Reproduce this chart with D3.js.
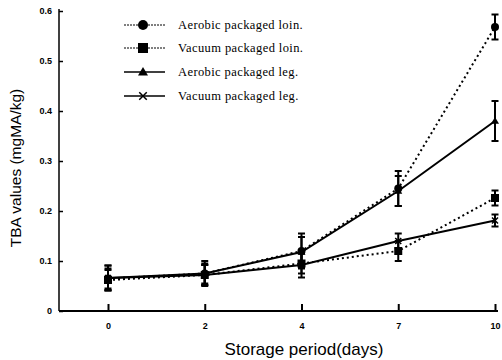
<!DOCTYPE html>
<html>
<head>
<meta charset="utf-8">
<script src="https://cdn.jsdelivr.net/npm/d3@7"></script>
<style>
  body { margin: 0; background: #fff; }
</style>
</head>
<body>
<svg width="502" height="360"></svg>
<script>
// data
const days = ["0", "2", "4", "7", "10"]
const yTicks = [0, 0.1, 0.2, 0.3, 0.4, 0.5, 0.6]

const aerobicLoin = [0.065, 0.075, 0.12, 0.245, 0.568]
const aerobicLoinErr = [0.02, 0.02, 0.035, 0.035, 0.025]
const vacuumLoin = [0.062, 0.072, 0.095, 0.12, 0.226]
const vacuumLoinErr = [0.02, 0.02, 0.02, 0.02, 0.015]
const aerobicLeg = [0.066, 0.075, 0.118, 0.24, 0.38]
const aerobicLegErr = [0.025, 0.025, 0.03, 0.03, 0.04]
const vacuumLeg = [0.066, 0.072, 0.092, 0.14, 0.181]
const vacuumLegErr = [0.025, 0.02, 0.025, 0.015, 0.012]

const names = ["Aerobic packaged loin.", "Vacuum packaged loin.", "Aerobic packaged leg.", "Vacuum packaged leg."]

const series = [
  {name: names[0], values: aerobicLoin, err: aerobicLoinErr, mark: "circle", dash: "2,3"},
  {name: names[1], values: vacuumLoin, err: vacuumLoinErr, mark: "square", dash: "2,3"},
  {name: names[2], values: aerobicLeg, err: aerobicLegErr, mark: "triangle", dash: null},
  {name: names[3], values: vacuumLeg, err: vacuumLegErr, mark: "cross", dash: null}
]

const svg = d3.select("svg")

const plotLeft = 59, plotRight = 498, plotTop = 11, plotBottom = 311

const x = d3.scalePoint().domain(days).range([108, 495])
const y = d3.scaleLinear().domain([0, 0.6]).range([plotBottom, plotTop])

//######## axes ########
const yaxis = svg.append("g")
  .attr("transform", "translate(" + plotLeft + ",0)")
  .call(d3.axisLeft(y).tickValues(yTicks).tickSize(-4).tickPadding(7)
    .tickFormat(d => d === 0 ? "0" : d3.format(".1f")(d)))
yaxis.select(".domain").remove()
yaxis.selectAll("line").attr("stroke", "#000").attr("stroke-width", 1.5)
yaxis.selectAll("text")
  .style("font-family", "Arial, 'Liberation Sans', sans-serif")
  .style("font-size", "9px").style("font-weight", "bold")

const xaxis = svg.append("g")
  .attr("transform", "translate(0," + plotBottom + ")")
  .call(d3.axisBottom(x).tickSize(-7).tickPadding(12))
xaxis.select(".domain").remove()
xaxis.selectAll("line").attr("stroke", "#000").attr("stroke-width", 2)
xaxis.selectAll("text")
  .style("font-family", "Arial, 'Liberation Sans', sans-serif")
  .style("font-size", "9px").style("font-weight", "bold")

// axis lines
svg.append("line")
  .attr("x1", plotLeft).attr("x2", plotLeft).attr("y1", plotTop - 2).attr("y2", plotBottom)
  .attr("stroke", "#000").attr("stroke-width", 1.5)
svg.append("line")
  .attr("x1", plotLeft).attr("x2", plotRight).attr("y1", plotBottom).attr("y2", plotBottom)
  .attr("stroke", "#000").attr("stroke-width", 2)

// axis titles
svg.append("text")
  .attr("transform", "translate(21,168) rotate(-90)")
  .attr("text-anchor", "middle")
  .style("font-family", "Arial, 'Liberation Sans', sans-serif")
  .style("font-size", "15.5px")
  .text("TBA values (mgMA/kg)")
svg.append("text")
  .attr("x", 304).attr("y", 355)
  .attr("text-anchor", "middle")
  .style("font-family", "Arial, 'Liberation Sans', sans-serif")
  .style("font-size", "17px")
  .text("Storage period(days)")

//######## markers ########
function drawMark(g, kind, cx, cy, big) {
  const s = big ? 1.25 : 1
  if (kind === "circle") {
    g.append("circle").attr("cx", cx).attr("cy", cy).attr("r", 4 * s).attr("fill", "#000")
  } else if (kind === "square") {
    g.append("rect").attr("x", cx - 4 * s).attr("y", cy - 4 * s)
      .attr("width", 8 * s).attr("height", 8 * s).attr("fill", "#000")
  } else if (kind === "triangle") {
    const r = 4 * s
    g.append("path")
      .attr("d", `M${cx},${cy - r}L${cx + r},${cy + r * 0.7}L${cx - r},${cy + r * 0.7}Z`)
      .attr("fill", "#000")
  } else {
    const r = 3 * s
    g.append("path")
      .attr("d", `M${cx - r},${cy - r}L${cx + r},${cy + r}M${cx - r},${cy + r}L${cx + r},${cy - r}`)
      .attr("stroke", "#000").attr("stroke-width", 1.5)
  }
}

//######## lines, error bars, points ########
const line = d3.line()
  .x((d, i) => x(days[i]))
  .y(d => y(d))

series.forEach(s => {
  svg.append("path")
    .datum(s.values)
    .attr("fill", "none")
    .attr("stroke", "#000")
    .attr("stroke-width", 2)
    .attr("stroke-dasharray", s.dash)
    .attr("d", line)
})

series.forEach(s => {
  const g = svg.append("g")
  s.values.forEach((v, i) => {
    const cx = x(days[i])
    const y1 = y(v + s.err[i]), y2 = y(v - s.err[i])
    g.append("line").attr("x1", cx).attr("x2", cx).attr("y1", y1).attr("y2", y2)
      .attr("stroke", "#000").attr("stroke-width", 2)
    ;[y1, y2].forEach(yy => {
      g.append("line").attr("x1", cx - 3.5).attr("x2", cx + 3.5).attr("y1", yy).attr("y2", yy)
        .attr("stroke", "#000").attr("stroke-width", 2)
    })
    drawMark(g, s.mark, cx, y(v), false)
  })
})

//######## legend ########
const legendRows = [25, 48, 72, 96]
series.forEach((s, i) => {
  const g = svg.append("g")
  const ly = legendRows[i]
  g.append("line").attr("x1", 124).attr("x2", 165).attr("y1", ly).attr("y2", ly)
    .attr("stroke", "#000").attr("stroke-width", s.dash ? 1 : 1.5)
    .attr("stroke-dasharray", s.dash ? "2,1" : null)
  drawMark(g, s.mark, 143, ly, true)
  g.append("text").attr("x", 178).attr("y", ly + 4)
    .style("font-family", "'Liberation Serif', 'Times New Roman', serif")
    .style("font-size", "12.5px")
    .style("letter-spacing", "0.4px")
    .text(s.name)
})
</script>
</body>
</html>
